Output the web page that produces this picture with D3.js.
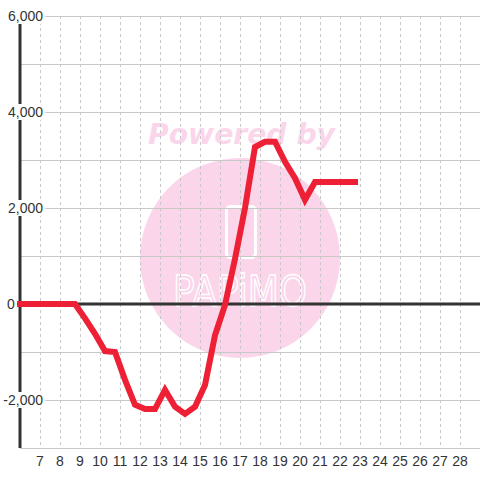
<!DOCTYPE html>
<html>
<head>
<meta charset="utf-8">
<script src="https://cdn.jsdelivr.net/npm/d3@7"></script>
<style>
  html, body { margin: 0; padding: 0; background: #ffffff; }
  svg { display: block; }
</style>
</head>
<body>
<script>
// ---- data ----
const times = [6, 6.75, 7.25, 7.75, 8.25, 8.75, 9.25, 9.75, 10.25, 10.75, 11.25, 11.75, 12.25, 12.75,
  13.25, 13.75, 14.25, 14.75, 15.25, 15.75, 16.25, 16.75, 17.25, 17.75, 18.25, 18.75,
  19.25, 19.75, 20.25, 20.75, 21.25, 21.75, 22.25, 22.75];
const values = [0, 0, 0, 0, 0, 0, -300, -620, -980, -1000, -1580, -2100, -2190, -2190,
  -1790, -2140, -2290, -2140, -1690, -650, -20, 940, 2000, 3270, 3380, 3380,
  2960, 2620, 2170, 2540, 2540, 2540, 2540, 2540];
const xTicks = [7, 8, 9, 10, 11, 12, 13, 14, 15, 16, 17, 18, 19, 20, 21, 22, 23, 24, 25, 26, 27, 28];
const yTicks = [-2000, 0, 2000, 4000, 6000];
const yLabels = ["-2,000", "0", "2,000", "4,000", "6,000"];
const yGrid = [-3000, -2000, -1000, 0, 1000, 2000, 3000, 4000, 5000, 6000];

const W = 480, H = 480;
const svg = d3.select("body").append("svg").attr("width", W).attr("height", H);
svg.append("rect").attr("width", W).attr("height", H).attr("fill", "#ffffff");

const x = d3.scaleLinear().domain([6, 29]).range([20, 480]);
const y = d3.scaleLinear().domain([-3000, 6000]).range([448, 16]);

const font = "'Liberation Sans', Arial, sans-serif";

// ---- watermark (behind grid) ----
const wm = svg.append("g");
const pink = "#fbd6eb";
wm.append("circle").attr("cx", 240).attr("cy", 258).attr("r", 100).attr("fill", pink);
wm.append("text").attr("x", 148).attr("y", 144)
  .attr("font-family", "'DejaVu Sans', sans-serif").attr("font-weight", "bold").attr("font-style", "italic")
  .attr("font-size", 29).attr("textLength", 187).attr("lengthAdjust", "spacingAndGlyphs")
  .attr("fill", pink).text("Powered by");
wm.append("rect").attr("x", 226.5).attr("y", 206.5).attr("width", 29).attr("height", 51)
  .attr("rx", 4).attr("fill", "none").attr("stroke", "#ffffff").attr("stroke-width", 3);
wm.append("text").attr("x", 173).attr("y", 306)
  .attr("font-family", "'DejaVu Sans', sans-serif").attr("font-size", 42)
  .attr("textLength", 134).attr("lengthAdjust", "spacingAndGlyphs")
  .attr("fill", pink).attr("stroke", "#ffffff").attr("stroke-width", 1.4)
  .text("PAPiMO");

// ---- grid ----
const grid = svg.append("g");
grid.selectAll("line.h").data(yGrid).enter().append("line")
  .attr("x1", 20).attr("x2", 480)
  .attr("y1", d => Math.round(y(d)) + 0.5).attr("y2", d => Math.round(y(d)) + 0.5)
  .attr("stroke", "#c8c8c8").attr("stroke-width", 1);
grid.selectAll("line.v").data(xTicks).enter().append("line")
  .attr("x1", d => Math.round(x(d)) + 0.5).attr("x2", d => Math.round(x(d)) + 0.5)
  .attr("y1", 16).attr("y2", 448)
  .attr("stroke", "#c8c8c8").attr("stroke-width", 1).attr("stroke-dasharray", "3,3");

// ---- axes ----
svg.append("line").attr("x1", x(6)).attr("x2", x(6)).attr("y1", 16).attr("y2", 448)
  .attr("stroke", "#333333").attr("stroke-width", 3);
svg.append("line").attr("x1", 17).attr("x2", 480).attr("y1", y(0)).attr("y2", y(0))
  .attr("stroke", "#333333").attr("stroke-width", 3);

// y labels with white background
const yl = svg.append("g");
yTicks.forEach((t, i) => {
  const isZero = t === 0;
  const g = yl.append("g");
  const tx = g.append("text")
    .attr("x", isZero ? 7 : 43).attr("y", y(t))
    .attr("dy", "0.36em")
    .attr("text-anchor", isZero ? "start" : "end")
    .attr("font-family", font).attr("font-size", 14).attr("fill", "#333333")
    .text(yLabels[i]);
  const bb = tx.node().getBBox();
  g.insert("rect", "text").attr("x", bb.x - 1).attr("y", y(t) - 8).attr("width", bb.width + 3)
    .attr("height", 16).attr("fill", "#ffffff");
});

// x labels
svg.append("g").selectAll("text").data(xTicks).enter().append("text")
  .attr("x", d => x(d)).attr("y", 466).attr("text-anchor", "middle")
  .attr("font-family", font).attr("font-size", 14).attr("fill", "#333333")
  .text(d => d);

// ---- series line ----
const pts = times.map((t, i) => [t, values[i]]);
svg.append("path").datum(pts)
  .attr("d", d3.line().x(d => x(d[0])).y(d => y(d[1])))
  .attr("fill", "none").attr("stroke", "#ee2035").attr("stroke-width", 6)
  .attr("stroke-linejoin", "miter").attr("stroke-linecap", "square");
</script>
</body>
</html>
